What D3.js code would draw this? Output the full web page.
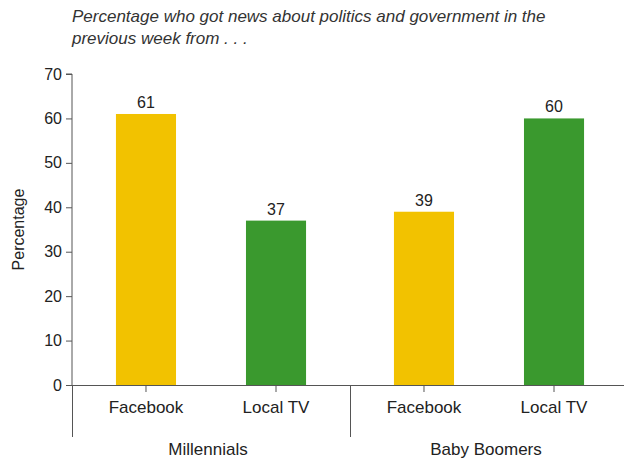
<!DOCTYPE html>
<html>
<head>
<meta charset="utf-8">
<script src="https://cdn.jsdelivr.net/npm/d3@7"></script>
<style>
  html, body { margin: 0; padding: 0; background: #fff; }
  svg { display: block; font-family: "Liberation Sans", Arial, sans-serif; }
</style>
</head>
<body>
<svg id="chart" width="624" height="460"></svg>
<script>
const groups = ["Millennials", "Baby Boomers"];
const sources = ["Facebook", "Local TV"];
const millennialsValues = [61, 37];
const boomersValues = [39, 60];
const yTicks = [0, 10, 20, 30, 40, 50, 60, 70];
const titleLines = ["Percentage who got news about politics and government in the", "previous week from . . ."];
const colors = { "Facebook": "#f2c200", "Local TV": "#3a992e" };

(function () {
const data = [
  ...sources.map((s, i) => ({ group: groups[0], source: s, value: millennialsValues[i] })),
  ...sources.map((s, i) => ({ group: groups[1], source: s, value: boomersValues[i] }))
];

const svg = d3.select("#chart");
const mLeft = 72, mRight = 628, mTop = 74, mBottom = 385;
const textColor = "#222";
const axisColor = "#555";

const y = d3.scaleLinear().domain([0, 70]).range([mBottom, mTop]);
const x0 = d3.scaleBand().domain(groups).range([mLeft, mRight]).padding(0);
const x1 = d3.scaleBand().domain(sources).range([0, x0.bandwidth()]).paddingInner(0.538).paddingOuter(0.338);

// title
svg.append("g").selectAll("text").data(titleLines).join("text")
  .attr("x", 72).attr("y", (d, i) => 22 + i * 22)
  .attr("font-size", 17).attr("font-style", "italic").attr("fill", "#333")
  .text(d => d);

// y axis
const yAxis = d3.axisLeft(y).tickValues(yTicks).tickSize(6).tickPadding(4);
const gy = svg.append("g").attr("transform", `translate(${mLeft},0)`).call(yAxis);
gy.select(".domain").attr("stroke", axisColor).attr("d", `M-6,${mTop}H0V${mBottom}`);
gy.selectAll(".tick line").attr("stroke", axisColor);
gy.selectAll(".tick text").attr("font-size", 16).attr("fill", textColor).attr("font-family", "Liberation Sans, Arial, sans-serif");

// y label
svg.append("text")
  .attr("transform", `translate(24,${(mTop + mBottom) / 2}) rotate(-90)`)
  .attr("text-anchor", "middle").attr("font-size", 16).attr("fill", textColor)
  .text("Percentage");

// bars
const gb = svg.append("g");
gb.selectAll("rect").data(data).join("rect")
  .attr("x", d => x0(d.group) + x1(d.source))
  .attr("width", x1.bandwidth())
  .attr("y", d => y(d.value))
  .attr("height", d => y(0) - y(d.value))
  .attr("fill", d => colors[d.source]);

gb.selectAll("text").data(data).join("text")
  .attr("x", d => x0(d.group) + x1(d.source) + x1.bandwidth() / 2)
  .attr("y", d => y(d.value) - 6)
  .attr("text-anchor", "middle").attr("font-size", 16).attr("fill", textColor)
  .text(d => d.value);

// baseline
svg.append("line").attr("x1", 66).attr("x2", 624).attr("y1", y(0) + 0.5).attr("y2", y(0) + 0.5)
  .attr("stroke", axisColor).attr("stroke-width", 1);

// x axis per group
groups.forEach(g => {
  const ax = d3.axisBottom(x1).tickSize(7).tickPadding(9);
  const gx = svg.append("g").attr("transform", `translate(${x0(g)},${mBottom})`).call(ax);
  gx.select(".domain").remove();
  gx.selectAll(".tick line").attr("stroke", axisColor);
  gx.selectAll(".tick text").attr("font-size", 17).attr("fill", textColor).attr("font-family", "Liberation Sans, Arial, sans-serif");
});

// group separators
const sepX = groups.map(g => x0(g)).concat([x0(groups[groups.length - 1]) + x0.bandwidth()]);
svg.append("g").selectAll("line").data(sepX).join("line")
  .attr("x1", d => Math.round(d) + 0.5)
  .attr("x2", d => Math.round(d) + 0.5)
  .attr("y1", mBottom).attr("y2", 437)
  .attr("stroke", axisColor);

// group labels
svg.append("g").selectAll("text").data(groups).join("text")
  .attr("x", d => x0(d) + x0.bandwidth() / 2 - 3)
  .attr("y", 455)
  .attr("text-anchor", "middle").attr("font-size", 17).attr("fill", textColor)
  .text(d => d);
})();
</script>
</body>
</html>
